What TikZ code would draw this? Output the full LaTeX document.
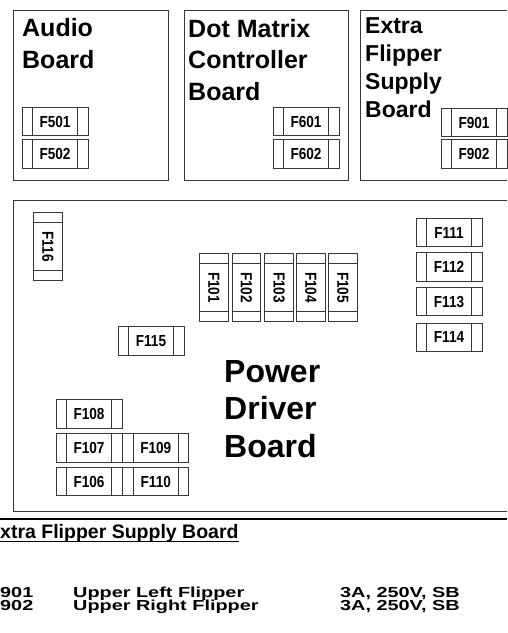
\documentclass[tikz,border=0pt]{standalone}
\usepackage{fontspec}
\setmainfont{Liberation Sans}
\newfontfamily\fusefont[FakeStretch=0.85]{Liberation Sans}
\newfontfamily\tablefont[FakeStretch=1.37]{Liberation Sans}
\definecolor{linecol}{RGB}{55,55,55}
\usetikzlibrary{positioning}

\tikzset{
  fuse/.style={draw=linecol, line width=0.8pt, minimum width=66pt, minimum height=28.5pt, inner sep=0pt,
    font=\fusefont\bfseries\fontsize{16}{16}\selectfont,
    path picture={\draw[linecol, line width=0.8pt]
      ([xshift=10.5pt]path picture bounding box.north west) -- ([xshift=10.5pt]path picture bounding box.south west)
      ([xshift=-10.5pt]path picture bounding box.north east) -- ([xshift=-10.5pt]path picture bounding box.south east);}},
  vfuse/.style={draw=linecol, line width=0.8pt, minimum width=28.5pt, minimum height=68pt, inner sep=0pt,
    font=\fusefont\bfseries\fontsize{16}{16}\selectfont,
    path picture={\draw[linecol, line width=0.8pt]
      ([yshift=-10pt]path picture bounding box.north west) -- ([yshift=-10pt]path picture bounding box.north east)
      ([yshift=10pt]path picture bounding box.south west) -- ([yshift=10pt]path picture bounding box.south east);}},
  board/.style={draw=linecol, line width=1pt},
  boardname/.style={anchor=base west, inner sep=0pt, align=left, font=\bfseries\fontsize{25}{31.5}\selectfont},
  tabrow/.style={anchor=base west, inner sep=0pt, font=\tablefont\bfseries\fontsize{14.5}{15}\selectfont}
}

\begin{document}
\begin{tikzpicture}[x=1pt, y=-1pt]
\useasboundingbox (0,0) rectangle (507,633);

% Audio board
\draw[board] (13,10) rectangle (168,180);
\node[boardname] (audio) at (22,68) {Audio\\Board};
\node[fuse] (f501) at (55,121.5) {F501};
\node[fuse, below=3pt of f501] (f502) {F502};

% Dot matrix controller board
\draw[board] (184,10) rectangle (348,180);
\node[boardname] (dmd) at (188,100) {Dot Matrix\\Controller\\Board};
\node[fuse] (f601) at (306,121.5) {F601};
\node[fuse, below=3pt of f601] (f602) {F602};

% Extra flipper supply board
\draw[board] (507,10) -- (360,10) -- (360,180) -- (507,180);
\node[boardname, font=\bfseries\fontsize{23}{28}\selectfont] (efs) at (365,117) {Extra\\Flipper\\Supply\\Board};
\node[fuse] (f901) at (474,122.5) {F901};
\node[fuse, below=2pt of f901] (f902) {F902};

% Power driver board
\draw[board] (507,200) -- (13,200) -- (13,511) -- (507,511);
\node[boardname, font=\bfseries\fontsize{32}{37.5}\selectfont] (pdb) at (224,457) {Power\\Driver\\Board};
\node[vfuse] (f116) at (48,246.5) {\rotatebox{-90}{F116}};
\node[vfuse] (f101) at (214,287.5) {\rotatebox{-90}{F101}};
\node[vfuse] (f102) at (246.5,287.5) {\rotatebox{-90}{F102}};
\node[vfuse] (f103) at (279,287.5) {\rotatebox{-90}{F103}};
\node[vfuse] (f104) at (311,287.5) {\rotatebox{-90}{F104}};
\node[vfuse] (f105) at (343,287.5) {\rotatebox{-90}{F105}};
\node[fuse] (f111) at (449,232.5) {F111};
\node[fuse, below=5pt of f111] (f112) {F112};
\node[fuse, below=5.5pt of f112] (f113) {F113};
\node[fuse, below=6.5pt of f113] (f114) {F114};
\node[fuse] (f115) at (151,341) {F115};
\node[fuse] (f108) at (89,414) {F108};
\node[fuse, below=4.5pt of f108] (f107) {F107};
\node[fuse, below=4.5pt of f107] (f106) {F106};
\node[fuse, right=0pt of f107] (f109) {F109};
\node[fuse, right=0pt of f106] (f110) {F110};

% Fuse table
\draw[line width=2pt] (0,519) -- (507,519);
\node[anchor=base west, inner sep=0pt, font=\bfseries\fontsize{19.5}{20}\selectfont] (head) at (0,538) {xtra Flipper Supply Board};
\draw[line width=1.3pt] ([yshift=-3.5pt]head.base west) -- ([yshift=-3.5pt]head.base east);
\node[tabrow] (n901) at (0,597) {901};
\node[tabrow] (d901) at (73,597) {Upper Left Flipper};
\node[tabrow] (r901) at (340,597) {3A, 250V, SB};
\node[tabrow] (n902) at (0,610) {902};
\node[tabrow] (d902) at (73,610) {Upper Right Flipper};
\node[tabrow] (r902) at (340,610) {3A, 250V, SB};
\end{tikzpicture}
\end{document}
